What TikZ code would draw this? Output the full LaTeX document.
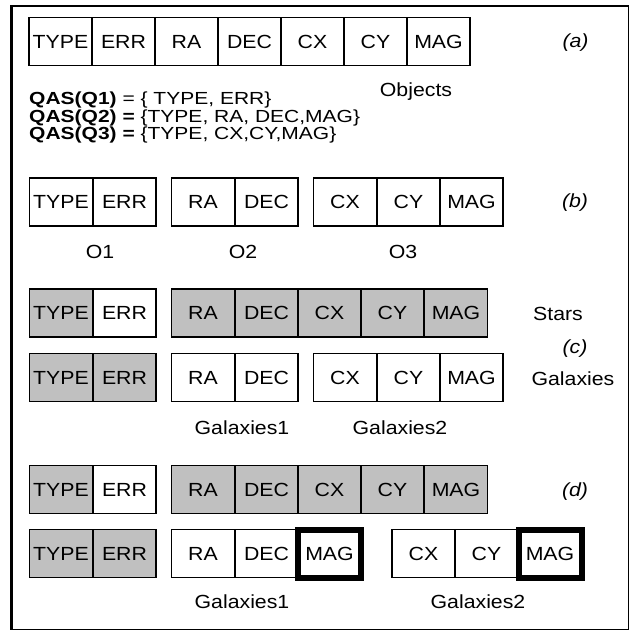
\documentclass[tikz,border=0pt]{standalone}
\usepackage{fontspec}
\setmainfont{Liberation Sans}[FakeStretch=1.12]
\newfontfamily\qasfont{Liberation Sans}[FakeStretch=1.2]
\definecolor{cellgray}{RGB}{192,192,192}
\tikzset{
  cell/.style={draw, line width=1.3pt, minimum width=63pt, minimum height=48pt,
    inner sep=0pt, outer sep=0pt, fill=white,
    font=\fontsize{19}{22}\selectfont, text height=13.6pt, text depth=0pt},
  gcell/.style={cell, fill=cellgray},
  magcell/.style={cell, line width=6pt},
  lbl/.style={inner sep=0pt, font=\fontsize{19}{22}\selectfont, text height=13.6pt, text depth=0pt},
  qas/.style={inner sep=0pt, anchor=west, font=\qasfont\fontsize{17.5}{20}\selectfont, text height=12.5pt, text depth=0pt},
  tag/.style={inner sep=0pt, font=\fontsize{19}{22}\selectfont\itshape}
}
\begin{document}
\begin{tikzpicture}[x=1pt,y=-1pt]
\useasboundingbox (0,0) rectangle (629,630);
% frame
\draw[line width=2.5pt] (11.3,6.2) rectangle (629.6,629.8);

% (a)
\foreach \t [count=\i] in {TYPE,ERR,RA,DEC,CX,CY,MAG}
  \node[cell] (a\i) at ({60.5+63*(\i-1)},41.5) {\t};
\node[tag] (taga) at (575.5,43) {(a)};
\node[lbl] (objects) at (416,90) {Objects};
\node[qas] (q1) at (29,98) {\textbf{QAS(Q1)} = \{ TYPE, ERR\}};
\node[qas] (q2) at (29,116) {\textbf{QAS(Q2) =} \{TYPE, RA, DEC,MAG\}};
\node[qas] (q3) at (29,133.5) {\textbf{QAS(Q3) =} \{TYPE, CX,CY,MAG\}};

% (b)
\node[cell] (b1) at (61,202) {TYPE};
\node[cell] (b2) at (124.5,202) {ERR};
\node[cell] (b3) at (203,202) {RA};
\node[cell] (b4) at (266.5,202) {DEC};
\node[cell] (b5) at (345,202) {CX};
\node[cell] (b6) at (408.5,202) {CY};
\node[cell] (b7) at (471.5,202) {MAG};
\node[tag] (tagb) at (575,203) {(b)};
\node[lbl] (o1) at (100,252) {O1};
\node[lbl] (o2) at (243,252) {O2};
\node[lbl] (o3) at (403,252) {O3};

% (c) stars
\node[gcell] (s1) at (61,313) {TYPE};
\node[cell]  (s2) at (124.5,313) {ERR};
\node[gcell] (s3) at (203,313) {RA};
\node[gcell] (s4) at (266.5,313) {DEC};
\node[gcell] (s5) at (329.5,313) {CX};
\node[gcell] (s6) at (392.5,313) {CY};
\node[gcell] (s7) at (456,313) {MAG};
\node[lbl] (stars) at (558,314) {Stars};
\node[tag] (tagc) at (575,349) {(c)};
% (c) galaxies
\node[gcell] (g1) at (61,377.5) {TYPE};
\node[gcell] (g2) at (124.5,377.5) {ERR};
\node[cell]  (g3) at (203,377.5) {RA};
\node[cell]  (g4) at (266.5,377.5) {DEC};
\node[cell]  (g5) at (345,377.5) {CX};
\node[cell]  (g6) at (408.5,377.5) {CY};
\node[cell]  (g7) at (471.5,377.5) {MAG};
\node[lbl] (galaxies) at (573,379) {Galaxies};
\node[lbl] (gal1c) at (242,428) {Galaxies1};
\node[lbl] (gal2c) at (400,428) {Galaxies2};

% (d) stars
\node[gcell] (d1) at (61,489.5) {TYPE};
\node[cell]  (d2) at (124.5,489.5) {ERR};
\node[gcell] (d3) at (203,489.5) {RA};
\node[gcell] (d4) at (266.5,489.5) {DEC};
\node[gcell] (d5) at (329.5,489.5) {CX};
\node[gcell] (d6) at (392.5,489.5) {CY};
\node[gcell] (d7) at (456,489.5) {MAG};
\node[tag] (tagd) at (575,492) {(d)};
% (d) galaxies
\node[gcell] (e1) at (61,553.5) {TYPE};
\node[gcell] (e2) at (124.5,553.5) {ERR};
\node[cell]  (e3) at (203,553.5) {RA};
\node[cell]  (e4) at (266.5,553.5) {DEC};
\node[cell]  (e6) at (423.5,553.5) {CX};
\node[cell]  (e7) at (486.5,553.5) {CY};
\node[magcell] (e5) at (329.5,553.5) {MAG};
\node[magcell] (e8) at (550,553.5) {MAG};
\node[lbl] (gal1d) at (242,602) {Galaxies1};
\node[lbl] (gal2d) at (478,602) {Galaxies2};
\end{tikzpicture}
\end{document}
